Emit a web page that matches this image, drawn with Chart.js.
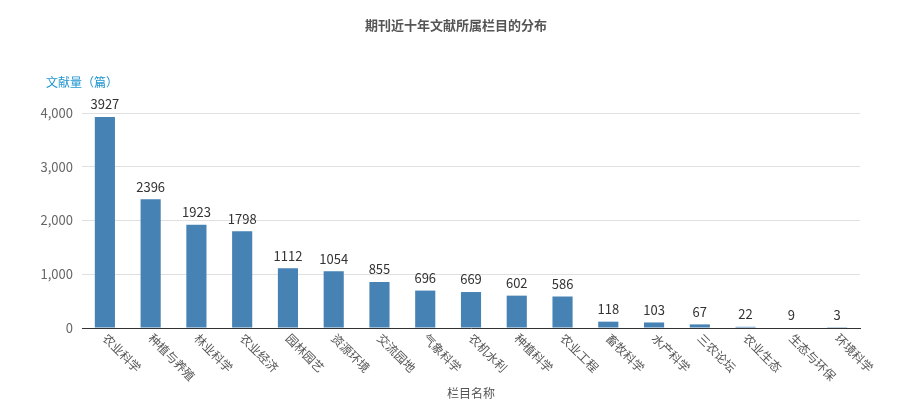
<!DOCTYPE html>
<html>
<head>
<meta charset="utf-8">
<script src="https://cdn.jsdelivr.net/npm/chart.js@4.4.1/dist/chart.umd.min.js"></script>
<style>
  html, body { margin: 0; padding: 0; background: #fff; }
  #wrap { width: 897px; height: 416px; position: relative; }
</style>
</head>
<body>
<div id="wrap"><canvas id="barChart"></canvas></div>
<script>
// chart data
const categories = ["农业科学", "种植与养殖", "林业科学", "农业经济", "园林园艺", "资源环境", "交流园地", "气象科学", "农机水利", "种植科学", "农业工程", "畜牧科学", "水产科学", "三农论坛", "农业生态", "生态与环保", "环境科学"];
const counts = [3927, 2396, 1923, 1798, 1112, 1054, 855, 696, 669, 602, 586, 118, 103, 67, 22, 9, 3];
const yTicks = [0, 1000, 2000, 3000, 4000];

const chartTitle = "期刊近十年文献所属栏目的分布";
const yAxisName = "文献量（篇）";
const xAxisName = "栏目名称";

const FONT = "'Microsoft YaHei', 'Noto Sans CJK SC', sans-serif";

// Title, axis names, rotated category labels and value labels
const decorations = {
  id: "decorations",
  afterDraw(chart) {
    const { ctx, chartArea } = chart;
    const xScale = chart.scales.x;
    const meta = chart.getDatasetMeta(0);
    ctx.save();

    // title
    ctx.font = "bold 13px " + FONT;
    ctx.fillStyle = "#555";
    ctx.textAlign = "center";
    ctx.textBaseline = "middle";
    ctx.fillText(chartTitle, 456, 25);

    // y axis name
    ctx.font = "12px " + FONT;
    ctx.fillStyle = "#1E96CF";
    ctx.textAlign = "left";
    ctx.fillText(yAxisName, chartArea.left - 36, 82);

    // value labels
    ctx.font = "13px " + FONT;
    ctx.fillStyle = "#333";
    ctx.textAlign = "center";
    ctx.textBaseline = "bottom";
    meta.data.forEach((bar, i) => {
      ctx.fillText(String(counts[i]), bar.x, bar.y - 6);
    });

    // category labels, rotated down-right
    ctx.font = "12px " + FONT;
    ctx.fillStyle = "#555";
    categories.forEach((name, i) => {
      const x = xScale.getPixelForValue(i);
      ctx.save();
      ctx.translate(x, chartArea.bottom + 8);
      ctx.rotate(Math.PI / 4);
      ctx.textAlign = "left";
      ctx.textBaseline = "middle";
      ctx.fillText(name, 0, 0);
      ctx.restore();
    });

    // x axis name
    ctx.font = "12px " + FONT;
    ctx.fillStyle = "#555";
    ctx.textAlign = "center";
    ctx.textBaseline = "middle";
    ctx.fillText(xAxisName, (chartArea.left + chartArea.right) / 2, 393);

    ctx.restore();
  },
};

const ctx = document.getElementById("barChart").getContext("2d");
new Chart(ctx, {
  type: "bar",
  data: {
    labels: categories,
    datasets: [
      {
        label: yAxisName,
        data: counts,
        backgroundColor: "#4682B4",
        borderWidth: 0,
        barPercentage: 0.44,
        categoryPercentage: 1,
      },
    ],
  },
  options: {
    responsive: true,
    maintainAspectRatio: false,
    animation: false,
    layout: {
      padding: { top: 113, right: 37, left: 0, bottom: 0 },
    },
    plugins: {
      legend: { display: false },
      tooltip: { enabled: false },
    },
    scales: {
      x: {
        afterFit(scale) {
          scale.height = 88;
        },
        grid: { display: false, drawTicks: false },
        border: { display: true, color: "#333", width: 1 },
        ticks: { display: false },
      },
      y: {
        min: 0,
        max: 4000,
        afterFit(scale) {
          scale.width = 82;
        },
        afterBuildTicks(scale) {
          scale.ticks = yTicks.map((v) => ({ value: v }));
        },
        grid: {
          color: (c) => (c.tick && c.tick.value === 0 ? "rgba(0,0,0,0)" : "#E0E0E0"),
          drawTicks: false,
        },
        border: { display: false },
        ticks: {
          padding: 9,
          color: "#666",
          font: { family: FONT, size: 13 },
          callback: (v) => v.toLocaleString("en-US"),
        },
      },
    },
  },
  plugins: [decorations],
});
</script>
</body>
</html>
